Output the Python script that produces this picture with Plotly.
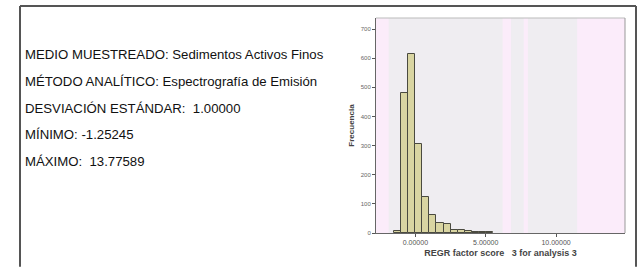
import plotly.graph_objects as go

# ---- data ----
bin_left = [-1.5, -1.0, -0.5, 0.0, 0.5, 1.0, 1.5, 2.0, 2.5, 3.0, 3.5, 4.0, 4.5, 5.0]
counts = [6, 480, 615, 305, 124, 62, 36, 32, 11, 9, 6, 4, 3, 2]
bin_width = 0.5
x_ticks = [0, 5, 10]
x_tick_labels = ["0.00000", "5.00000", "10.00000"]
y_ticks = [0, 100, 200, 300, 400, 500, 600, 700]
y_tick_labels = ["0", "100", "200", "300", "400", "500", "600", "700"]
info_lines = [
    "MEDIO MUESTREADO: Sedimentos Activos Finos",
    "MÉTODO ANALÍTICO: Espectrografía de Emisión",
    "DESVIACIÓN ESTÁNDAR:  1.00000",
    "MÍNIMO: -1.25245",
    "MÁXIMO:  13.77589",
]
x_title = "REGR factor score   3 for analysis 3"
y_title = "Frecuencia"

centers = [b + bin_width / 2 for b in bin_left]

fig = go.Figure()
fig.add_trace(go.Bar(
    x=centers, y=counts, width=bin_width,
    marker=dict(color="#d9d5a2", line=dict(color="#4a4a40", width=1)),
    hoverinfo="skip",
))

W, H = 644, 269
ML, MR, MT, MB = 376, 19, 18, 34
fig.update_layout(
    width=W, height=H,
    margin=dict(l=ML, r=MR, t=MT, b=MB),
    paper_bgcolor="white",
    plot_bgcolor="#efedf1",
    showlegend=False,
    bargap=0,
    font=dict(family="Liberation Sans, Arial, sans-serif", color="#222"),
)
fig.update_xaxes(
    range=[-2.8, 14.9], tickvals=x_ticks, ticktext=x_tick_labels,
    ticks="outside", ticklen=3, tickcolor="#555", showgrid=False, zeroline=False,
    showline=True, linecolor="#666", linewidth=1,
    tickfont=dict(size=7, color="#555"),
    title=dict(text="<b>" + x_title + "</b>", font=dict(size=9, color="#444"), standoff=4),
)
fig.update_yaxes(
    range=[0, 738], tickvals=y_ticks, ticktext=y_tick_labels,
    ticks="outside", ticklen=3, tickcolor="#555", showgrid=False, zeroline=False,
    showline=True, linecolor="#666", linewidth=1,
    tickfont=dict(size=6, color="#666"),
    title=dict(text="<b>" + y_title + "</b>", font=dict(size=8, color="#444"), standoff=4),
)

# pinkish background bands (as in original rendering)
for x0, x1 in [(-2.8, -1.9), (6.2, 6.8), (7.7, 8.0), (11.5, 14.9)]:
    fig.add_shape(type="rect", xref="x", yref="paper", x0=x0, x1=x1, y0=0, y1=1,
                  fillcolor="#fbecfa", line=dict(width=0), layer="below")
# plot frame top/right
fig.add_shape(type="line", xref="paper", yref="paper", x0=0, x1=1, y0=1, y1=1,
              line=dict(color="#bbbbbb", width=1))
fig.add_shape(type="line", xref="paper", yref="paper", x0=1, x1=1, y0=0, y1=1,
              line=dict(color="#999999", width=1))

# outer table border (pixel -> paper coordinates)
def px(x):
    return (x - ML) / (W - ML - MR)
def py(y):
    return (H - MB - y) / (H - MT - MB)

border = dict(color="#555555", width=2)
fig.add_shape(type="line", xref="paper", yref="paper", x0=px(20), x1=px(636), y0=py(6), y1=py(6), line=border)
fig.add_shape(type="line", xref="paper", yref="paper", x0=px(20), x1=px(20), y0=py(6), y1=py(269), line=border)
fig.add_shape(type="line", xref="paper", yref="paper", x0=px(636), x1=px(636), y0=py(6), y1=py(269), line=border)

for i, t in enumerate(info_lines):
    fig.add_annotation(
        text=t, xref="paper", yref="paper", x=px(23), y=py(55 + i * 27),
        xanchor="left", yanchor="middle", showarrow=False,
        font=dict(size=13.2, color="#111", family="Liberation Sans, Arial, sans-serif"),
    )

fig.write_html("out.html", config={"displayModeBar": False},
               post_script="document.body.style.margin='0';document.body.style.overflow='hidden';")
